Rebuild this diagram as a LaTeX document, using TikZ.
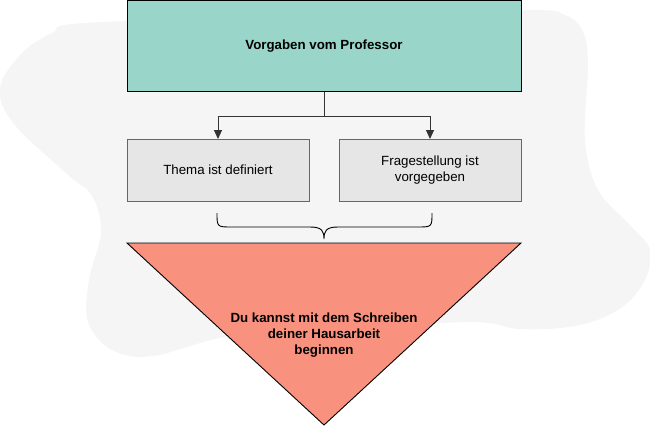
\documentclass[tikz,border=0pt]{standalone}
\usepackage{fontspec}
\setmainfont{Liberation Sans}
\usetikzlibrary{arrows.meta}
\definecolor{blobgray}{HTML}{F5F5F5}
\definecolor{tealfill}{HTML}{9AD5C9}
\definecolor{boxgray}{HTML}{E6E6E6}
\definecolor{boxline}{HTML}{666666}
\definecolor{salmon}{HTML}{F9917F}
\definecolor{linedark}{HTML}{333333}
\tikzset{
  topbox/.style={draw=black, fill=tealfill, line width=1pt, minimum width=394pt, minimum height=91pt, inner sep=0pt, outer sep=0pt, font=\bfseries\fontsize{13.3}{16}\selectfont, align=center},
  graybox/.style={draw=boxline, fill=boxgray, line width=1pt, minimum width=182pt, minimum height=62pt, inner sep=0pt, outer sep=0pt, font=\fontsize{13.3}{16}\selectfont, align=center},
  conn/.style={draw=linedark, line width=1pt, -{Triangle[length=9pt,width=8pt]}},
  bracestyle/.style={draw=black, line width=0.9pt},
  tritext/.style={font=\bfseries\fontsize{13.3}{16}\selectfont, align=center, inner sep=0pt}
}
\begin{document}
\begin{tikzpicture}[x=1pt,y=-1pt]
\useasboundingbox (0,0) rectangle (650,426);
% background blob
\fill[blobgray] plot[smooth cycle, tension=0.6] coordinates {
  (85,23) (300,16) (520,10) (565,15) (583,32) (588,65) (585,140) (598,190)
  (630,225) (650,250) (644,282) (618,310) (575,326) (520,329) (470,322)
  (330,330) (230,336) (153,356) (112,350) (88,322) (89,280) (101,232)
  (92,196) (68,175) (14,124) (0,88) (22,53) (52,33)};
% top box
\node[topbox] (prof) at (324,46) {Vorgaben vom Professor};
% gray boxes
\node[graybox] (thema) at (218,170) {Thema ist definiert};
\node[graybox] (frage) at (430,170) {Fragestellung ist\\vorgegeben};
% connectors
\coordinate (split) at (324,116);
\draw[conn] (prof.south) -- (split) -| (thema.north);
\draw[conn] (split) -| (frage.north);
% brace
\coordinate (bl) at (217,213);
\coordinate (br) at (432,213);
\coordinate (btip) at (324,239);
\draw[bracestyle] (bl) .. controls (217,227) and (217,227) .. (232,227) -- (310,227)
  .. controls (322,227) and (324,231) .. (btip)
  .. controls (324,231) and (326,227) .. (338,227) -- (417,227)
  .. controls (432,227) and (432,227) .. (br);
% triangle
\coordinate (tl) at (127,243);
\coordinate (tr) at (521,243);
\coordinate (tb) at (324,425);
\draw[fill=salmon, draw=black, line width=0.9pt, line join=miter] (tl) -- (tr) -- (tb) -- cycle;
\node[tritext] (goal) at (324,335) {Du kannst mit dem Schreiben\\deiner Hausarbeit\\beginnen};
\end{tikzpicture}
\end{document}
